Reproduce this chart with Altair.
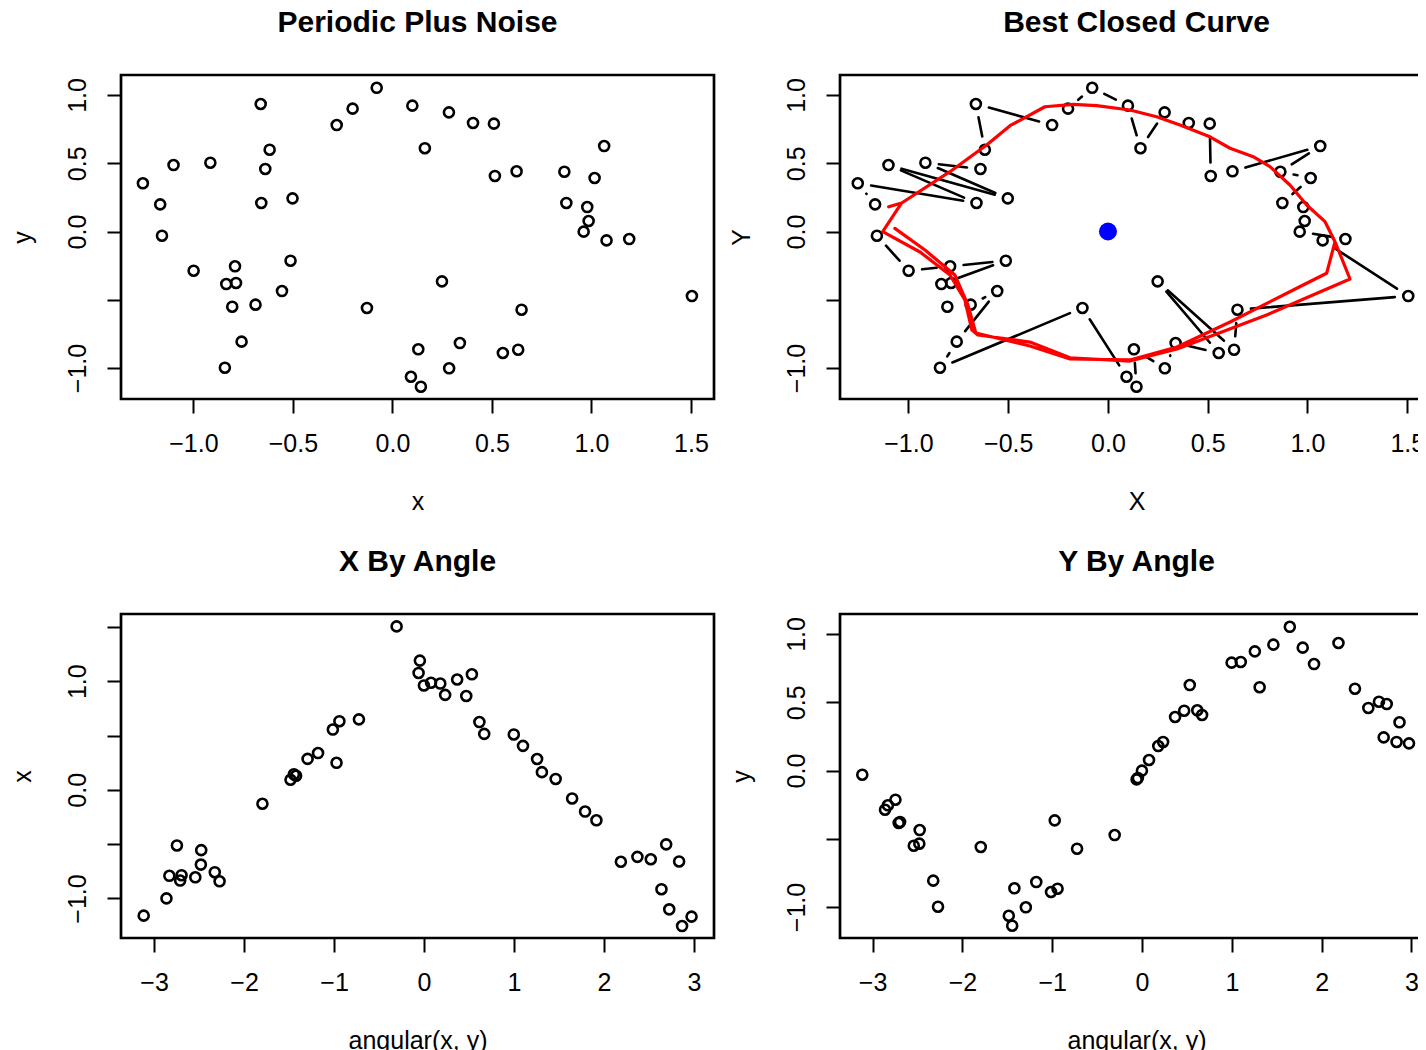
import altair as alt
import pandas as pd

# ---- data ----
pts_x = [-0.079, -0.662, -0.200, -0.280, 0.100, -0.617, -1.100, -0.915, -0.639, -1.254,
         -1.167, -0.659, -0.502, -1.158, -0.999, -0.791, -0.835, -0.786, -0.512, -0.555,
         -0.805, -0.688, -0.128, -0.758, -0.842, 0.130, 0.093, 0.143, 0.163, 0.284,
         0.405, 0.510, 1.064, 0.515, 0.624, 0.864, 1.016, 0.874, 0.979, 0.986,
         0.961, 1.076, 1.190, 0.249, 1.505, 0.649, 0.339, 0.555, 0.632, 0.285]
pts_y = [1.053, 0.934, 0.900, 0.780, 0.922, 0.599, 0.487, 0.504, 0.458, 0.353,
         0.199, 0.209, 0.243, -0.031, -0.287, -0.255, -0.385, -0.377, -0.214, -0.436,
         -0.551, -0.536, -0.560, -0.807, -0.998, -0.863, -1.064, -1.137, 0.610, 0.873,
         0.795, 0.790, 0.626, 0.407, 0.441, 0.438, 0.392, 0.209, 0.179, 0.077,
         -0.001, -0.065, -0.055, -0.365, -0.473, -0.573, -0.817, -0.890, -0.866, -1.002]

curve_x = [-1.068, -0.917, -0.767, -0.702, -0.662, -0.391, -0.190, 0.110, 0.346, 0.612,
           0.946, 1.096, 1.138, 1.088, 0.996, 0.912, 0.812, 0.728, 0.612, 0.511,
           0.361, 0.244, 0.110, -0.057, -0.174, -0.316, -0.491, -0.608, -0.792, -1.034,
           -1.099, -1.034,
           -1.129, -0.942, -0.792, -0.717, -0.682, -0.652, -0.391, -0.190, 0.110, 0.346,
           0.795, 1.213, 1.138]
curve_y = [0.023, -0.136, -0.319, -0.538, -0.744, -0.839, -0.934, -0.941, -0.846, -0.663,
           -0.416, -0.306, -0.075, 0.072, 0.194, 0.341, 0.475, 0.548, 0.610, 0.694,
           0.780, 0.841, 0.890, 0.922, 0.932, 0.914, 0.775, 0.634, 0.438, 0.209,
           0.181, 0.209,
           -0.001, -0.150, -0.319, -0.502, -0.722, -0.758, -0.810, -0.925, -0.949, -0.861,
           -0.612, -0.348, -0.075]

center_x = [0.0]
center_y = [0.0]

titles = ["Periodic Plus Noise", "Best Closed Curve", "X By Angle", "Y By Angle"]

# ---- layout / style ----
W, H = 593, 324
FONT = "Liberation Sans"
FS = 25
GAP = 13.5

dom_x1 = [-1.364, 1.616]
dom_x2 = [-1.343, 1.629]
dom_y = [-1.227, 1.1465]
dom_a3 = [-3.367, 3.222]
dom_a4 = [-3.363, 3.240]
dom_xv = [-1.364, 1.619]

df = pd.DataFrame({"x": pts_x, "y": pts_y})
dcurve = pd.DataFrame({"cx": curve_x, "cy": curve_y, "i": list(range(len(curve_x)))})
dcenter = pd.DataFrame({"x": center_x, "y": center_y})


def xaxis(title, values, fmt):
    return alt.Axis(title=title, values=values, format=fmt, grid=False, domain=False,
                    labelFontSize=FS, titleFontSize=FS, labelFont=FONT, titleFont=FONT,
                    labelColor="black", titleColor="black", tickColor="black",
                    tickSize=14, tickWidth=2, labelPadding=18, labelFlush=False,
                    labelOverlap=False, titleFontWeight="normal",
                    titleX=W / 2, titleY=110, titleBaseline="alphabetic",
                    titleAlign="center")


def yaxis(title, values, hide_expr):
    return alt.Axis(title=title, values=values, format=".1f", grid=False, domain=False,
                    labelFontSize=FS, titleFontSize=FS, labelFont=FONT, titleFont=FONT,
                    labelColor="black", titleColor="black", tickColor="black",
                    tickSize=14, tickWidth=2, labelPadding=17, labelFlush=False,
                    labelOverlap=False, labelAngle=270, labelAlign="center",
                    labelBaseline="bottom", labelExpr=hide_expr,
                    titleFontWeight="normal", titleAngle=270, titleX=-86, titleY=H / 2,
                    titleAlign="center", titleBaseline="bottom")


def ttl(text):
    return alt.TitleParams(text=text, font=FONT, fontSize=30, fontWeight="bold",
                           color="black", anchor="middle", baseline="alphabetic",
                           offset=13)


hide_m05 = "datum.value == -0.5 ? '' : datum.label"
hide_half = "datum.value % 1 != 0 ? '' : datum.label"
xv = [-1.0, -0.5, 0.0, 0.5, 1.0, 1.5]
yv = [-1.0, -0.5, 0.0, 0.5, 1.0]
av = [-3, -2, -1, 0, 1, 2, 3]

circ = dict(shape="circle", filled=False, stroke="black", strokeWidth=2.6, size=100, opacity=1)

# Panel 1
p1 = alt.Chart(df).mark_point(**circ).encode(
    x=alt.X("x:Q", scale=alt.Scale(domain=dom_x1, nice=False, zero=False),
            axis=xaxis("x", xv, ".1f")),
    y=alt.Y("y:Q", scale=alt.Scale(domain=dom_y, nice=False, zero=False),
            axis=yaxis("y", yv, hide_m05)),
).properties(width=W, height=H, title=ttl(titles[0]))

# Panel 2
sx2 = W / (dom_x2[1] - dom_x2[0])
sy2 = H / (dom_y[1] - dom_y[0])
scx2 = alt.Scale(domain=dom_x2, nice=False, zero=False)
scy2 = alt.Scale(domain=dom_y, nice=False, zero=False)

segs = alt.Chart(df).transform_calculate(
    ang="atan2(datum.y, datum.x)"
).transform_window(
    nx="lead(x)", ny="lead(y)", sort=[alt.SortField("ang", order="ascending")]
).transform_filter("datum.nx != null").transform_calculate(
    L=f"sqrt(pow((datum.nx-datum.x)*{sx2},2)+pow((datum.ny-datum.y)*{sy2},2))"
).transform_filter(f"datum.L > {2 * GAP}").transform_calculate(
    xa=f"datum.x + (datum.nx-datum.x)*{GAP}/datum.L",
    ya=f"datum.y + (datum.ny-datum.y)*{GAP}/datum.L",
    xb=f"datum.nx - (datum.nx-datum.x)*{GAP}/datum.L",
    yb=f"datum.ny - (datum.ny-datum.y)*{GAP}/datum.L",
).mark_rule(color="black", strokeWidth=2.6, strokeCap="round").encode(
    x=alt.X("xa:Q", scale=scx2, axis=xaxis("X", xv, ".1f")),
    y=alt.Y("ya:Q", scale=scy2, axis=yaxis("Y", yv, hide_m05)),
    x2="xb:Q", y2="yb:Q",
)
pts2 = alt.Chart(df).mark_point(**circ).encode(
    x=alt.X("x:Q", scale=scx2), y=alt.Y("y:Q", scale=scy2))
curve = alt.Chart(dcurve).mark_line(color="#FF0000", strokeWidth=3.2,
                                    strokeJoin="round", strokeCap="round").encode(
    x=alt.X("cx:Q", scale=scx2), y=alt.Y("cy:Q", scale=scy2), order="i:Q")
cen = alt.Chart(dcenter).mark_point(shape="circle", filled=True, color="#0000FF",
                                    size=324, opacity=1).encode(
    x=alt.X("x:Q", scale=scx2), y=alt.Y("y:Q", scale=scy2))
p2 = alt.layer(segs, pts2, curve, cen).properties(width=W, height=H, title=ttl(titles[1]))

# Panel 3
p3 = alt.Chart(df).transform_calculate(
    ang="atan2(datum.y, datum.x)"
).mark_point(**circ).encode(
    x=alt.X("ang:Q", scale=alt.Scale(domain=dom_a3, nice=False, zero=False),
            axis=xaxis("angular(x, y)", av, "d")),
    y=alt.Y("x:Q", scale=alt.Scale(domain=dom_xv, nice=False, zero=False),
            axis=yaxis("x", [-1.0, -0.5, 0.0, 0.5, 1.0, 1.5], hide_half)),
).properties(width=W, height=H, title=ttl(titles[2]))

# Panel 4
p4 = alt.Chart(df).transform_calculate(
    ang="atan2(datum.y, datum.x)"
).mark_point(**circ).encode(
    x=alt.X("ang:Q", scale=alt.Scale(domain=dom_a4, nice=False, zero=False),
            axis=xaxis("angular(x, y)", av, "d")),
    y=alt.Y("y:Q", scale=alt.Scale(domain=dom_y, nice=False, zero=False),
            axis=yaxis("y", yv, hide_m05)),
).properties(width=W, height=H, title=ttl(titles[3]))

chart = alt.concat(p1, p2, p3, p4, columns=2,
                   spacing={"row": 215, "column": 126}, bounds="flush").configure_view(
    stroke="black", strokeWidth=2.7
).properties(padding={"left": 0, "top": -2, "right": -17, "bottom": 5}, background="white")

chart.save("out.html", embed_options={"renderer": "svg", "actions": False})
